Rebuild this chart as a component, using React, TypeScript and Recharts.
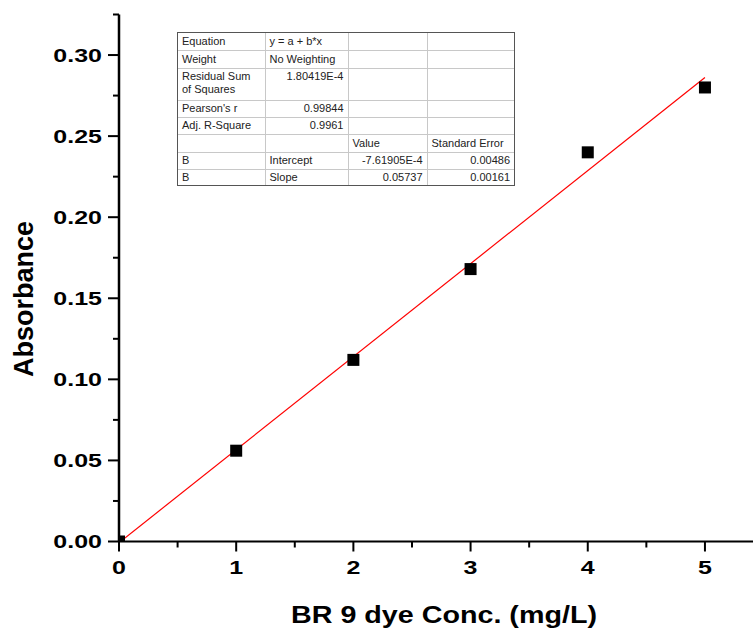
import React from "react"
import {
  ComposedChart,
  Scatter,
  Line,
  XAxis,
  YAxis,
} from "recharts"

// measured points (concentration mg/L vs absorbance)
const CONC = [0, 1, 2, 3, 4, 5]
const ABSORBANCE = [0.0, 0.056, 0.112, 0.168, 0.24, 0.28]

// linear fit endpoints, y = a + b*x from the table
const FIT_X = [0, 5]
const FIT_Y = [-0.00076, 0.28609]

const X_MAJOR = [0, 1, 2, 3, 4, 5]
const X_MINOR = [0.5, 1.5, 2.5, 3.5, 4.5]
const Y_MAJOR = [0, 0.05, 0.1, 0.15, 0.2, 0.25, 0.3]
const Y_MINOR = [0.025, 0.075, 0.125, 0.175, 0.225, 0.275, 0.325]

const TABLE_ROWS = [
  ["Equation", "y = a + b*x", "", ""],
  ["Weight", "No Weighting", "", ""],
  ["Residual Sum of Squares", "1.80419E-4", "", ""],
  ["Pearson's r", "0.99844", "", ""],
  ["Adj. R-Square", "0.9961", "", ""],
  ["", "", "Value", "Standard Error"],
  ["B", "Intercept", "-7.61905E-4", "0.00486"],
  ["B", "Slope", "0.05737", "0.00161"],
]

const points = CONC.map((x, i) => ({ x, y: ABSORBANCE[i] }))
const fit = FIT_X.map((x, i) => ({ x, y: FIT_Y[i] }))

const FONT = '"Liberation Sans", Arial, sans-serif'

// Origin draws its labels wider than plain Arial bold
const charWidth = (s: string) =>
  s.split("").reduce((w, c) => w + (c === "." ? 0.278 : 0.556), 0)

const XTick = (props: any) => {
  const { x, y, payload } = props
  const major = X_MAJOR.includes(payload.value)
  const label = String(payload.value)
  return (
    <g>
      <line x1={x} y1={y} x2={x} y2={y + (major ? 10 : 6)} stroke="#000" strokeWidth={2} />
      {major && (
        <text
          x={x}
          y={y + 32}
          textAnchor="middle"
          fontFamily={FONT}
          fontWeight="bold"
          fontSize={18}
          textLength={charWidth(label) * 25}
          lengthAdjust="spacingAndGlyphs"
          fill="#000"
        >
          {label}
        </text>
      )}
    </g>
  )
}

const YTick = (props: any) => {
  const { x, y, payload } = props
  const major = Y_MAJOR.some((v) => Math.abs(v - payload.value) < 1e-9)
  const label = payload.value.toFixed(2)
  return (
    <g>
      <line x1={x} y1={y} x2={x - (major ? 11 : 6)} y2={y} stroke="#000" strokeWidth={2} />
      {major && (
        <text
          x={x - 17}
          y={y + 6.5}
          textAnchor="end"
          fontFamily={FONT}
          fontWeight="bold"
          fontSize={18}
          textLength={charWidth(label) * 25}
          lengthAdjust="spacingAndGlyphs"
          fill="#000"
        >
          {label}
        </text>
      )}
    </g>
  )
}

const Square = (props: any) => {
  const { cx, cy } = props
  return <rect x={cx - 6} y={cy - 6} width={12} height={12} fill="#000" />
}

const XTitle = () => (
  <text
    x={444}
    y={623}
    textAnchor="middle"
    fontFamily={FONT}
    fontWeight="bold"
    fontSize={24}
    textLength={306}
    lengthAdjust="spacingAndGlyphs"
    fill="#000"
  >
    BR 9 dye Conc. (mg/L)
  </text>
)

const YTitle = () => (
  <text
    x={33}
    y={299}
    transform="rotate(-90 33 299)"
    textAnchor="middle"
    fontFamily={FONT}
    fontWeight="bold"
    fontSize={27}
    fill="#000"
  >
    Absorbance
  </text>
)

const colWidths = [87, 83, 79, 87]
const rowHeights = [17, 18, 32, 17, 17, 18, 17, 16]

function FitTable() {
  return (
    <div
      style={{
        position: "absolute",
        left: 177,
        top: 32,
        border: "1px solid #555",
        background: "#fff",
        lineHeight: 0,
      }}
    >
      <table
        style={{
          borderCollapse: "collapse",
          borderStyle: "hidden",
          tableLayout: "fixed",
          fontFamily: FONT,
          fontSize: 11,
          color: "#222",
        }}
      >
        <colgroup>
          {colWidths.map((w, i) => (
            <col key={i} style={{ width: w }} />
          ))}
        </colgroup>
        <tbody>
          {TABLE_ROWS.map((row, r) => (
            <tr key={r} style={{ height: rowHeights[r] }}>
              {row.map((cell, c) => {
                const numeric = /^-?[0-9.]+(E-?\d+)?$/.test(cell)
                return (
                  <td
                    key={c}
                    style={{
                      border: "1px solid #c8c8c8",
                      padding: "0 4px",
                      lineHeight: "13px",
                      verticalAlign: r === 2 ? "top" : "middle",
                      paddingTop: r === 2 ? 1 : 0,
                      textAlign: numeric ? "right" : "left",
                      whiteSpace: r === 2 && c === 0 ? "normal" : "nowrap",
                      overflow: "hidden",
                      boxSizing: "border-box",
                    }}
                  >
                    {cell}
                  </td>
                )
              })}
            </tr>
          ))}
        </tbody>
      </table>
    </div>
  )
}

export default function App() {
  return (
    <div style={{ position: "absolute", left: 0, top: 0, width: 753, height: 630, background: "#fff" }}>
      <ComposedChart
        width={753}
        height={630}
        margin={{ top: 14.5, right: 0, bottom: 0, left: 0 }}
      >
        <XAxis
          type="number"
          dataKey="x"
          domain={[0, 5.41]}
          allowDataOverflow
          ticks={[...X_MAJOR, ...X_MINOR].sort((a, b) => a - b)}
          interval={0}
          tick={<XTick />}
          tickLine={false}
          tickSize={0}
          tickMargin={0}
          height={88.5}
          axisLine={{ stroke: "#000", strokeWidth: 2 }}
          label={<XTitle />}
        />
        <YAxis
          type="number"
          dataKey="y"
          domain={[0, 0.325]}
          allowDataOverflow
          ticks={[...Y_MAJOR, ...Y_MINOR].sort((a, b) => a - b)}
          interval={0}
          tick={<YTick />}
          tickLine={false}
          tickSize={0}
          tickMargin={0}
          width={119}
          axisLine={{ stroke: "#000", strokeWidth: 2.5 }}
          label={<YTitle />}
        />
        <Line
          data={fit}
          dataKey="y"
          type="linear"
          stroke="#ff0000"
          strokeWidth={1.2}
          dot={false}
          activeDot={false}
          isAnimationActive={false}
        />
        <Scatter data={points} dataKey="y" shape={<Square />} isAnimationActive={false} />
      </ComposedChart>
      <FitTable />
    </div>
  )
}
